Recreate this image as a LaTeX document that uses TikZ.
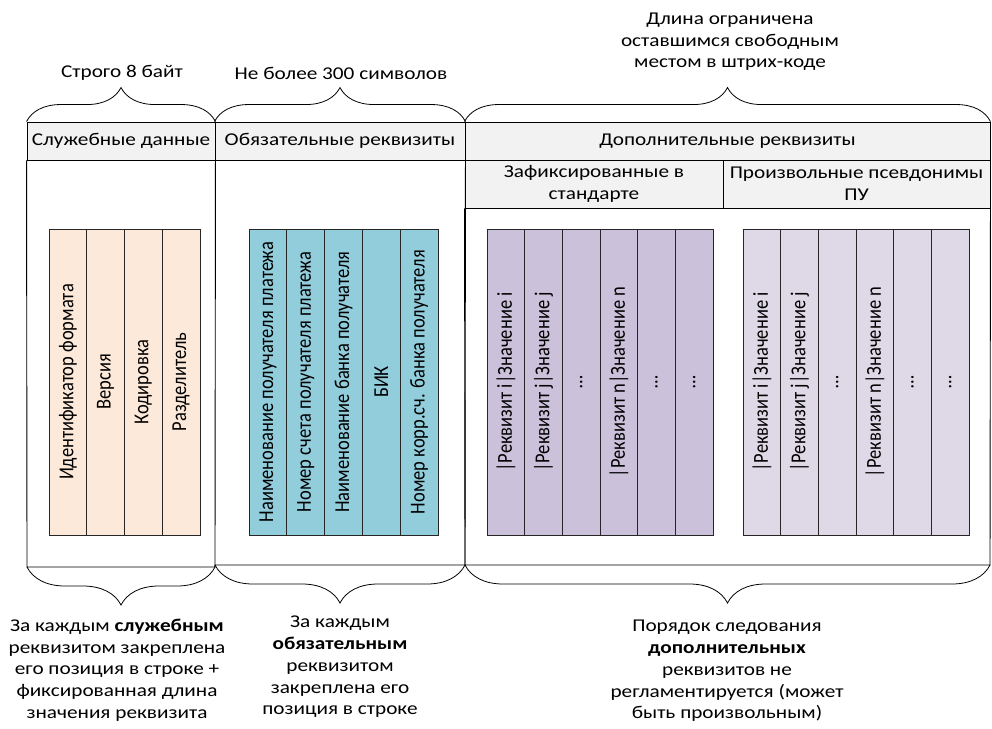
\documentclass[tikz,border=0pt]{standalone}
\usepackage{fontspec}
\setmainfont{Carlito}[FakeStretch=1.18]
\newfontfamily\rotfont{Carlito}
\usetikzlibrary{decorations.pathreplacing}
\definecolor{hdr}{HTML}{F2F2F2}
\definecolor{orng}{HTML}{FDE9D9}
\definecolor{blu}{HTML}{92CDDC}
\definecolor{purp}{HTML}{CCC1DA}
\definecolor{lpur}{HTML}{DFD9E7}
\newcommand{\vtext}[1]{\rotatebox{90}{\scalebox{1}[1.15]{#1}}}
\begin{document}
\begin{tikzpicture}[x=1pt,y=-1pt,
  font=\fontsize{18}{21.7}\selectfont,
  frame/.style={draw=black, line width=0.9pt},
  hcell/.style={draw=black, fill=hdr, line width=0.9pt, inner sep=0pt, minimum height=38pt, align=center},
  colbox/.style={draw=black!85, line width=0.9pt, minimum width=37.75pt, minimum height=306pt, inner sep=0pt,
     font=\rotfont\fontsize{18.5}{20}\selectfont},
  txt/.style={align=center, inner sep=0pt},
  topbrace/.style={draw=black, line width=0.8pt, decorate, decoration={brace, amplitude=34pt}},
  botbrace/.style={draw=black, line width=0.8pt, decorate, decoration={brace, amplitude=38pt, mirror}}]
\useasboundingbox (0,0) rectangle (992,728);

% headers
\node[hcell, minimum width=188pt] (h1) at (121,141) {Служебные данные};
\node[hcell, minimum width=250pt] (h2) at (340,141) {Обязательные реквизиты};
\node[hcell, minimum width=525pt] (h3) at (727.5,141) {Дополнительные реквизиты};
\node[hcell, minimum width=258pt, minimum height=48pt] (s1) at (594,184) {Зафиксированные в\\стандарте};
\node[hcell, minimum width=267pt, minimum height=48pt] (s2) at (856.5,184) {Произвольные псевдонимы\\ПУ};

% body corners
\coordinate (b1l) at (27,567);
\coordinate (b1r) at (215,567);
\coordinate (b2l) at (215,565);
\coordinate (b2r) at (465,565);
\coordinate (b3r) at (990,565);

\draw[frame] (h1.south west) -- (b1l) -- (b1r) -- (h1.south east);
\draw[frame] (b1r) -- (b2l) -- (b2r) -- (h2.south east);
\draw[frame] (s1.south west) -- (b2r) -- (b3r) -- (s2.south east);

% columns
\foreach \t [count=\i] in {Идентификатор формата, Версия, Кодировка, Разделитель}
  \node[colbox, fill=orng] (o\i) at ({49+37.75*(\i-0.5)},382) {\vtext{\t}};
\foreach \t [count=\i] in {Наименование получателя платежа, Номер счета получателя платежа, Наименование банка получателя, БИК, Номер корр.сч. банка получателя}
  \node[colbox, fill=blu, minimum width=37.8pt] (c\i) at ({249+37.8*(\i-0.5)},382) {\vtext{\t}};
\foreach \t [count=\i] in {|Реквизит i|Значение i, |Реквизит j|Значение j, …, |Реквизит n|Значение n, …, …}
  \node[colbox, fill=purp, minimum width=37.67pt] (p\i) at ({487+37.67*(\i-0.5)},382) {\vtext{\t}};
\foreach \t [count=\i] in {|Реквизит i|Значение i, |Реквизит j|Значение j, …, |Реквизит n|Значение n, …, …}
  \node[colbox, fill=lpur, minimum width=37.67pt] (q\i) at ({743+37.67*(\i-0.5)},382) {\vtext{\t}};

% top braces
\draw[topbrace] (h1.north west) -- (h1.north east);
\draw[topbrace] (h2.north west) -- (h2.north east);
\draw[topbrace] (h3.north west) -- (h3.north east);

% bottom braces
\draw[botbrace] (b1l) -- (b1r);
\draw[botbrace] (b2l) -- (b2r);
\draw[botbrace] (b2r) -- (b3r);

% top labels
\node[txt] (l1) at (122,73) {Строго 8 байт};
\node[txt] (l2) at (341,73) {Не более 300 символов};
\node[txt] (l3) at (730,42) {Длина ограничена\\оставшимся свободным\\местом в штрих-коде};

% bottom labels
\node[txt] (t1) at (117,670) {За каждым \textbf{служебным}\\реквизитом закреплена\\его позиция в строке +\\фиксированная длина\\значения реквизита};
\node[txt] (t2) at (340,667) {За каждым\\\textbf{обязательным}\\реквизитом\\закреплена его\\позиция в строке};
\node[txt] (t3) at (727,671) {Порядок следования\\\textbf{дополнительных}\\реквизитов не\\регламентируется (может\\быть произвольным)};
\end{tikzpicture}
\end{document}
